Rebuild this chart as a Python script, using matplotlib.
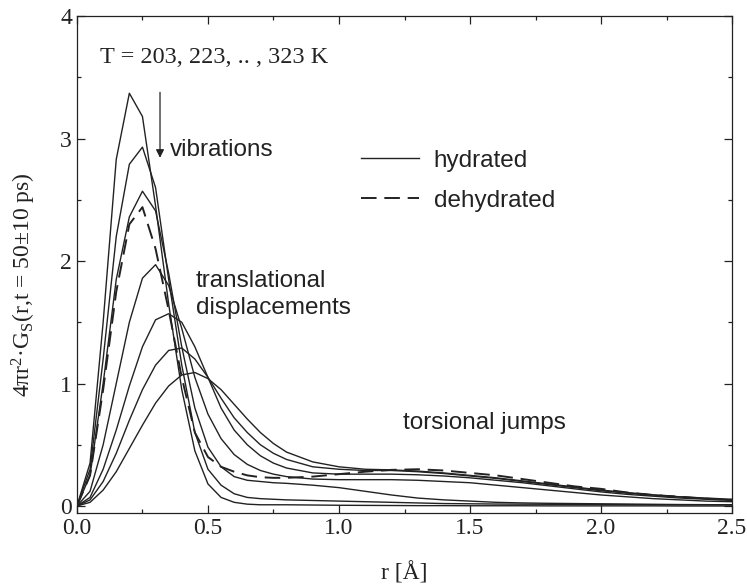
import matplotlib
matplotlib.use("Agg")
import matplotlib.pyplot as plt

plt.rcParams['font.family'] = 'Liberation Serif'
plt.rcParams['mathtext.fontset'] = 'custom'
plt.rcParams['mathtext.rm'] = 'Liberation Serif'
plt.rcParams['mathtext.it'] = 'Liberation Serif:italic'

# r grid (Angstrom)
r = [0, 0.05, 0.1, 0.15, 0.2, 0.25, 0.3, 0.35, 0.4, 0.45, 0.5, 0.55, 0.6, 0.65,
     0.7, 0.75, 0.8, 0.9, 1.0, 1.1, 1.2, 1.3, 1.4, 1.5, 1.6, 1.7, 1.8, 1.9,
     2.0, 2.1, 2.2, 2.3, 2.4, 2.5]

# hydrated, T = 203 ... 323 K
g203 = [0, 0.35, 1.5, 2.83, 3.37, 3.18, 2.45, 1.65, 0.95, 0.45, 0.18, 0.07, 0.03, 0.015,
        0.01, 0.01, 0.01, 0.008, 0.006, 0.005, 0.004, 0.003, 0.003, 0.002, 0.002, 0.002,
        0.001, 0.001, 0.001, 0.001, 0.001, 0.0, 0.0, 0.0]
g223 = [0, 0.3, 1.2, 2.2, 2.79, 2.93, 2.6, 1.85, 1.15, 0.6, 0.3, 0.17, 0.1, 0.07,
        0.06, 0.055, 0.05, 0.045, 0.04, 0.035, 0.03, 0.025, 0.02, 0.018, 0.016, 0.015,
        0.014, 0.013, 0.012, 0.011, 0.01, 0.01, 0.01, 0.01]
g243 = [0, 0.25, 1.0, 1.85, 2.36, 2.57, 2.41, 1.9, 1.3, 0.8, 0.48, 0.32, 0.24, 0.21,
        0.2, 0.19, 0.185, 0.17, 0.15, 0.12, 0.09, 0.065, 0.05, 0.04, 0.03, 0.025,
        0.022, 0.02, 0.018, 0.016, 0.014, 0.012, 0.011, 0.01]
g263 = [0, 0.12, 0.5, 1.0, 1.5, 1.86, 1.97, 1.8, 1.45, 1.05, 0.75, 0.55, 0.42, 0.34,
        0.29, 0.26, 0.24, 0.22, 0.215, 0.215, 0.215, 0.21, 0.2, 0.19, 0.17, 0.15,
        0.13, 0.11, 0.09, 0.075, 0.06, 0.05, 0.04, 0.035]
g283 = [0, 0.07, 0.3, 0.62, 0.98, 1.3, 1.52, 1.57, 1.5, 1.3, 1.05, 0.8, 0.62, 0.5,
        0.41, 0.35, 0.31, 0.27, 0.26, 0.26, 0.26, 0.255, 0.245, 0.23, 0.21, 0.19,
        0.165, 0.14, 0.115, 0.095, 0.08, 0.065, 0.055, 0.045]
g303 = [0, 0.05, 0.2, 0.43, 0.7, 0.95, 1.15, 1.27, 1.29, 1.2, 1.05, 0.88, 0.72, 0.6,
        0.5, 0.43, 0.38, 0.32, 0.3, 0.29, 0.29, 0.28, 0.265, 0.245, 0.225, 0.2,
        0.175, 0.15, 0.125, 0.105, 0.09, 0.075, 0.06, 0.05]
g323 = [0, 0.03, 0.13, 0.28, 0.47, 0.66, 0.84, 0.98, 1.07, 1.09, 1.04, 0.95, 0.83, 0.71,
        0.6, 0.51, 0.44, 0.36, 0.32, 0.3, 0.295, 0.285, 0.27, 0.25, 0.23, 0.205,
        0.18, 0.155, 0.13, 0.11, 0.09, 0.075, 0.065, 0.055]
hydrated = [g203, g223, g243, g263, g283, g303, g323]

# dehydrated
g_dry = [0, 0.25, 0.95, 1.75, 2.3, 2.44, 2.1, 1.6, 1.05, 0.6, 0.4, 0.32, 0.28, 0.25,
         0.235, 0.23, 0.23, 0.24, 0.26, 0.28, 0.295, 0.3, 0.29, 0.27, 0.25, 0.22,
         0.19, 0.16, 0.14, 0.11, 0.09, 0.075, 0.06, 0.05]

lc = '#222222'
fig = plt.figure(figsize=(7.47, 5.86), dpi=100)
ax = fig.add_axes([0.103, 0.1246, 0.877, 0.848])

for i, g in enumerate(hydrated):
    ax.plot(r, g, c=lc, lw=1.0, label='hydrated' if i == 0 else None)
ax.plot(r, g_dry, c=lc, lw=1.4, ls=(0, (8, 4)), label='dehydrated')

ax.set_xlim(0, 2.5)
ax.set_ylim(-0.057, 4)
ax.set_xticks([0, 0.5, 1.0, 1.5, 2.0, 2.5])
ax.set_xticks([0.25, 0.75, 1.25, 1.75, 2.25], minor=True)
ax.set_yticks([0, 1, 2, 3, 4])
ax.set_yticks([0.5, 1.5, 2.5, 3.5], minor=True)
ax.set_xticklabels(['0.0', '0.5', '1.0', '1.5', '2.0', '2.5'])
ax.tick_params(which='both', direction='in', top=True, right=True, colors=lc,
               labelsize=17, labelcolor=lc, width=0.9)
ax.tick_params(which='major', length=6)
ax.tick_params(which='minor', length=3)
for s in ax.spines.values():
    s.set_color(lc)
    s.set_linewidth(0.9)

ax.set_xlabel('r [Å]', fontsize=17, color=lc, labelpad=17)
ax.set_ylabel('4πr$^{\\mathregular{2}}$·G$_{\\mathregular{S}}$(r,t = 50±10 ps)', fontsize=17, color=lc)
ax.yaxis.set_label_coords(-0.06, 0.46)

sans = 'Liberation Sans'
ax.text(0.088, 3.66, 'T = 203, 223, .. , 323 K', fontsize=17.5, color=lc, va='center')
ax.annotate('', xy=(0.317, 2.82), xytext=(0.317, 3.4),
            arrowprops=dict(arrowstyle='-|>', color=lc, lw=0.9, mutation_scale=12))
ax.text(0.355, 2.91, 'vibrations', fontsize=17.5, family=sans, color=lc, va='center')
ax.text(0.454, 1.73, 'translational\ndisplacements', fontsize=17.5, family=sans, color=lc,
        va='center', linespacing=1.3)
ax.text(1.244, 0.68, 'torsional jumps', fontsize=17.5, family=sans, color=lc, va='center')

leg = ax.legend(loc='upper left', bbox_to_anchor=(0.4, 0.775), frameon=False,
                prop={'family': sans, 'size': 17.5}, handlelength=2.4,
                labelspacing=0.75, handletextpad=0.6)
for t in leg.get_texts():
    t.set_color(lc)

fig.savefig('out.png', dpi=100)
